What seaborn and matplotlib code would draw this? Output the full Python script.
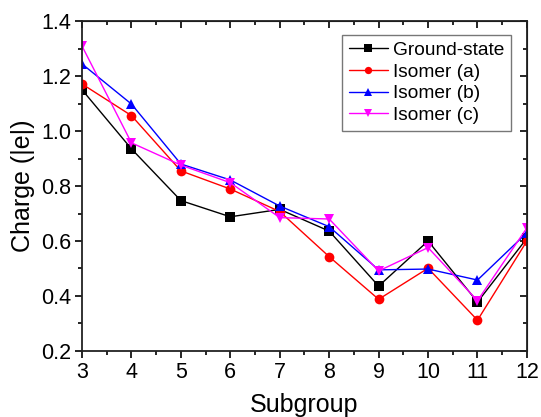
import matplotlib
matplotlib.use("Agg")
import matplotlib.pyplot as plt
import seaborn as sns
import pandas as pd
from matplotlib.ticker import MultipleLocator

subgroup = [3, 4, 5, 6, 7, 8, 9, 10, 11, 12]
ground_state = [1.15, 0.935, 0.747, 0.688, 0.715, 0.636, 0.436, 0.600, 0.378, 0.61]
isomer_a = [1.171, 1.056, 0.855, 0.789, 0.707, 0.543, 0.388, 0.501, 0.312, 0.60]
isomer_b = [1.244, 1.098, 0.880, 0.822, 0.727, 0.652, 0.495, 0.498, 0.458, 0.63]
isomer_c = [1.309, 0.957, 0.876, 0.812, 0.685, 0.680, 0.491, 0.576, 0.383, 0.648]

names = ["Ground-state", "Isomer (a)", "Isomer (b)", "Isomer (c)"]
series = [ground_state, isomer_a, isomer_b, isomer_c]
rows = []
for n, vals in zip(names, series):
    for x, v in zip(subgroup, vals):
        rows.append({"Subgroup": x, "Charge": v, "Series": n})
df = pd.DataFrame(rows)

sns.set_style("ticks")
plt.rcParams['font.family'] = ['Liberation Sans', 'DejaVu Sans']
plt.rcParams['text.color'] = 'black'
plt.rcParams['axes.labelcolor'] = 'black'
plt.rcParams['xtick.color'] = 'black'
plt.rcParams['ytick.color'] = 'black'
plt.rcParams['axes.edgecolor'] = 'black'

fig = plt.figure(figsize=(5.41, 4.17), dpi=100)
ax = fig.add_axes([0.1516, 0.1583, 0.8224, 0.7913])

palette = {"Ground-state": "black", "Isomer (a)": "red", "Isomer (b)": "blue", "Isomer (c)": "magenta"}
markers = {"Ground-state": "s", "Isomer (a)": "o", "Isomer (b)": "^", "Isomer (c)": "v"}
sns.lineplot(data=df, x="Subgroup", y="Charge", hue="Series", style="Series",
             palette=palette, markers=markers, dashes=False, ax=ax,
             linewidth=1.0, markersize=7, markeredgewidth=0)

ax.set_xlim(3, 12)
ax.set_ylim(0.2, 1.4)
ax.xaxis.set_major_locator(MultipleLocator(1))
ax.xaxis.set_minor_locator(MultipleLocator(0.5))
ax.set_yticks([0.2, 0.4, 0.6, 0.8, 1.0, 1.2, 1.4])
ax.set_yticklabels(["0.2", "0.4", "0.6", "0.8", "1.0", "1.2", "1.4"])
ax.yaxis.set_minor_locator(MultipleLocator(0.1))
ax.tick_params(which='major', direction='out', length=5, width=1.2, labelsize=15.5, colors='black', pad=3)
ax.tick_params(which='minor', direction='out', length=3, width=1.2)
for s in ax.spines.values():
    s.set_linewidth(1.3)
    s.set_visible(True)
    s.set_color('#222222')

sec_x = ax.secondary_xaxis('top')
sec_x.xaxis.set_major_locator(MultipleLocator(1))
sec_x.xaxis.set_minor_locator(MultipleLocator(0.5))
sec_x.tick_params(which='major', direction='in', length=5, width=1.2, labeltop=False)
sec_x.tick_params(which='minor', direction='in', length=3, width=1.2)
sec_y = ax.secondary_yaxis('right')
sec_y.yaxis.set_major_locator(MultipleLocator(0.2))
sec_y.yaxis.set_minor_locator(MultipleLocator(0.1))
sec_y.tick_params(which='major', direction='in', length=5, width=1.2, labelright=False)
sec_y.tick_params(which='minor', direction='in', length=3, width=1.2)

ax.set_xlabel("Subgroup", fontsize=18, labelpad=7)
ax.set_ylabel("Charge (|e|)", fontsize=18, labelpad=4)

leg = ax.legend(loc='upper right', fontsize=13.8, frameon=True, fancybox=False,
                edgecolor='#555555', borderpad=0.35, labelspacing=0.22, handlelength=2.0,
                handletextpad=0.3, borderaxespad=0.0, bbox_to_anchor=(0.965, 0.958),
                markerscale=0.75)
leg.get_frame().set_linewidth(1.0)

fig.savefig("out.png", dpi=100)
